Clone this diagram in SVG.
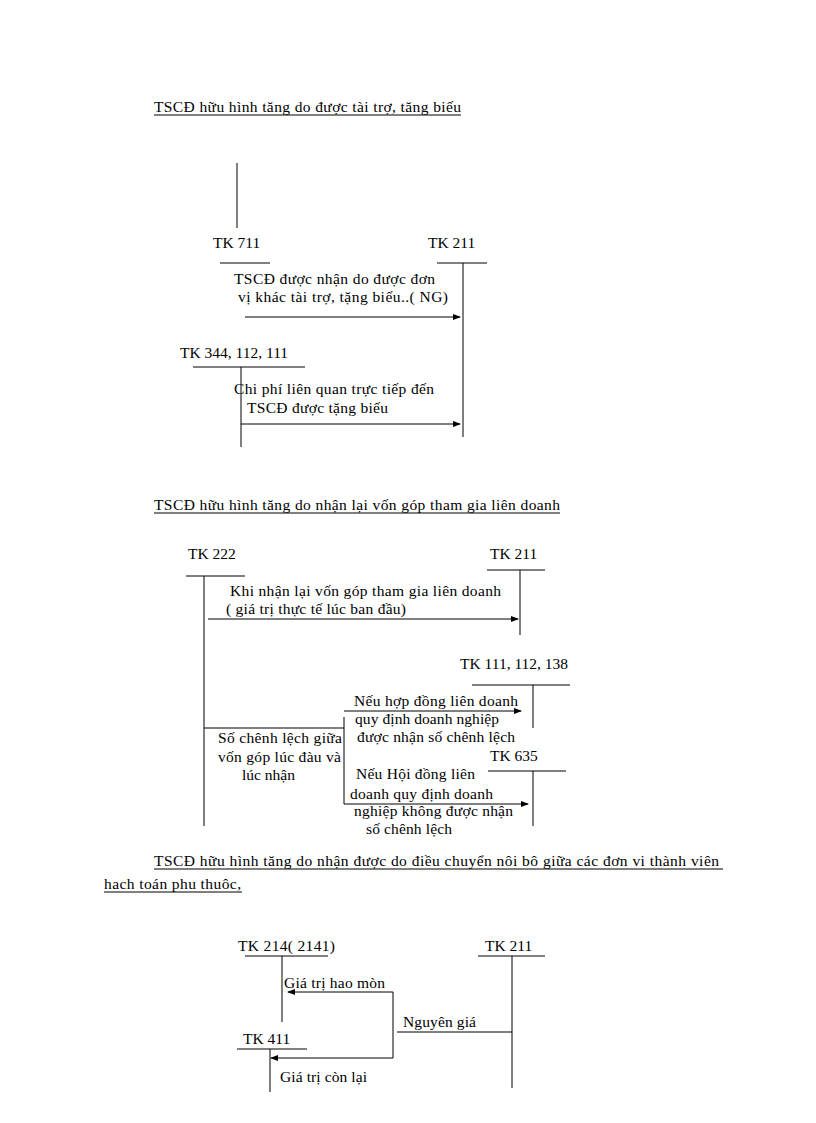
<svg xmlns="http://www.w3.org/2000/svg" width="816" height="1123" viewBox="0 0 816 1123">
<defs>
<marker id="ah" markerWidth="8" markerHeight="6" refX="7" refY="3" orient="auto" markerUnits="userSpaceOnUse"><path d="M0,0 L8,3 L0,6 z" fill="#000"/></marker>
<style>
text{font-family:"Liberation Serif","Times New Roman",serif;font-size:15.5px;fill:#000}
line{stroke:#000;stroke-width:1}
</style>
</defs>
<rect width="816" height="1123" fill="#fff"/>
<g id="titles">
<text x="154" y="112" textLength="307" lengthAdjust="spacing">TSCĐ hữu hình  tăng  do được tài trợ, tăng  biếu</text>
<line x1="154" y1="115" x2="461" y2="115"/>
<text x="154" y="510" textLength="406" lengthAdjust="spacing">TSCĐ hữu hình  tăng  do nhận lại vốn góp tham gia liên  doanh</text>
<line x1="154" y1="513" x2="560" y2="513"/>
<text x="154" y="866" textLength="565" lengthAdjust="spacing">TSCĐ hữu hình  tăng  do nhận  được do điều  chuyển  nôi bô giữa  các đơn vi thành viên</text>
<line x1="154" y1="869" x2="723" y2="869"/>
<text x="104" y="889" textLength="137" lengthAdjust="spacing">hach toán phu thuôc,</text>
<line x1="104" y1="892" x2="242" y2="892"/>
</g>
<g id="tk711"><line x1="237" y1="163" x2="237" y2="228"/><text x="213" y="248">TK 711</text><line x1="220" y1="263" x2="270" y2="263"/></g>
<g id="tk211a"><text x="428" y="248">TK 211</text><line x1="437" y1="263" x2="487" y2="263"/><line x1="463" y1="263" x2="463" y2="437"/></g>
<g id="tk344"><text x="180" y="358">TK 344, 112, 111</text><line x1="193" y1="367" x2="305" y2="367"/><line x1="241" y1="367" x2="241" y2="447"/></g>
<g id="tk222"><text x="188" y="559">TK 222</text><line x1="186" y1="576" x2="245" y2="576"/><line x1="204" y1="576" x2="204" y2="826"/></g>
<g id="tk211b"><text x="490" y="559">TK 211</text><line x1="487" y1="570" x2="545" y2="570"/><line x1="520" y1="570" x2="520" y2="635"/></g>
<g id="tk111"><text x="460" y="669">TK 111, 112, 138</text><line x1="472" y1="685" x2="570" y2="685"/><line x1="533" y1="685" x2="533" y2="728"/></g>
<g id="tk635"><text x="490" y="761">TK 635</text><line x1="488" y1="771" x2="566" y2="771"/><line x1="533" y1="771" x2="533" y2="826"/></g>
<g id="tk214"><text x="238" y="951" textLength="97" lengthAdjust="spacing">TK 214( 2141)</text><line x1="245" y1="956" x2="328" y2="956"/><line x1="282" y1="956" x2="282" y2="1022"/></g>
<g id="tk211c"><text x="485" y="951">TK 211</text><line x1="478" y1="956" x2="545" y2="956"/><line x1="512" y1="956" x2="512" y2="1088"/></g>
<g id="tk411"><text x="243" y="1044">TK 411</text><line x1="237" y1="1049" x2="307" y2="1049"/><line x1="270" y1="1049" x2="270" y2="1092"/></g>
<g id="connectors">
<line x1="245" y1="317" x2="460" y2="317" marker-end="url(#ah)"/>
<line x1="241" y1="424" x2="460" y2="424" marker-end="url(#ah)"/>
<line x1="208" y1="619" x2="518" y2="619" marker-end="url(#ah)"/>
<line x1="204" y1="728" x2="344" y2="728"/>
<line x1="344" y1="717" x2="344" y2="804"/>
<line x1="344" y1="711" x2="521" y2="711" marker-end="url(#ah)"/>
<line x1="344" y1="804" x2="528" y2="804" marker-end="url(#ah)"/>
<line x1="393" y1="992" x2="288" y2="992" marker-end="url(#ah)"/>
<line x1="393" y1="992" x2="393" y2="1058"/>
<line x1="393" y1="1058" x2="271" y2="1058" marker-end="url(#ah)"/>
<line x1="397" y1="1032" x2="512" y2="1032"/>
</g>
<g id="labels">
<text x="234" y="284" textLength="201" lengthAdjust="spacing">TSCĐ được nhận  do được đơn</text>
<text x="238" y="302" textLength="210" lengthAdjust="spacing">vị khác tài trợ, tặng biếu..( NG)</text>
<text x="234" y="394" textLength="200" lengthAdjust="spacing">Chi phí liên  quan trực tiếp  đến</text>
<text x="247" y="413" textLength="141" lengthAdjust="spacing">TSCĐ được tặng biếu</text>
<text x="230" y="596" textLength="271" lengthAdjust="spacing">Khi nhận lại vốn góp tham gia liên  doanh</text>
<text x="226" y="614" textLength="180" lengthAdjust="spacing">( giá trị thực tế lúc ban đầu)</text>
<text x="354" y="706" textLength="164" lengthAdjust="spacing">Nếu hợp  đồng liên  doanh</text>
<text x="355" y="724" textLength="144" lengthAdjust="spacing">quy  định  doanh nghiệp</text>
<text x="357" y="742" textLength="158" lengthAdjust="spacing">được nhận  số chênh  lệch</text>
<text x="218" y="743" textLength="124" lengthAdjust="spacing">Số chênh  lệch giữa</text>
<text x="218" y="762" textLength="123" lengthAdjust="spacing">vốn góp lúc  đàu và</text>
<text x="242" y="780" textLength="53" lengthAdjust="spacing">lúc  nhận</text>
<text x="356" y="779" textLength="119" lengthAdjust="spacing">Nếu Hội  đồng liên</text>
<text x="350" y="799" textLength="143" lengthAdjust="spacing">doanh quy  định  doanh</text>
<text x="354" y="816" textLength="159" lengthAdjust="spacing">nghiệp  không  được nhận</text>
<text x="366" y="834" textLength="86" lengthAdjust="spacing">số chênh  lệch</text>
<text x="284" y="988" textLength="101" lengthAdjust="spacing">Giá trị hao mòn</text>
<text x="403" y="1027" textLength="73" lengthAdjust="spacing">Nguyên  giá</text>
<text x="280" y="1082" textLength="87" lengthAdjust="spacing">Giá trị còn lại</text>
</g>
</svg>
